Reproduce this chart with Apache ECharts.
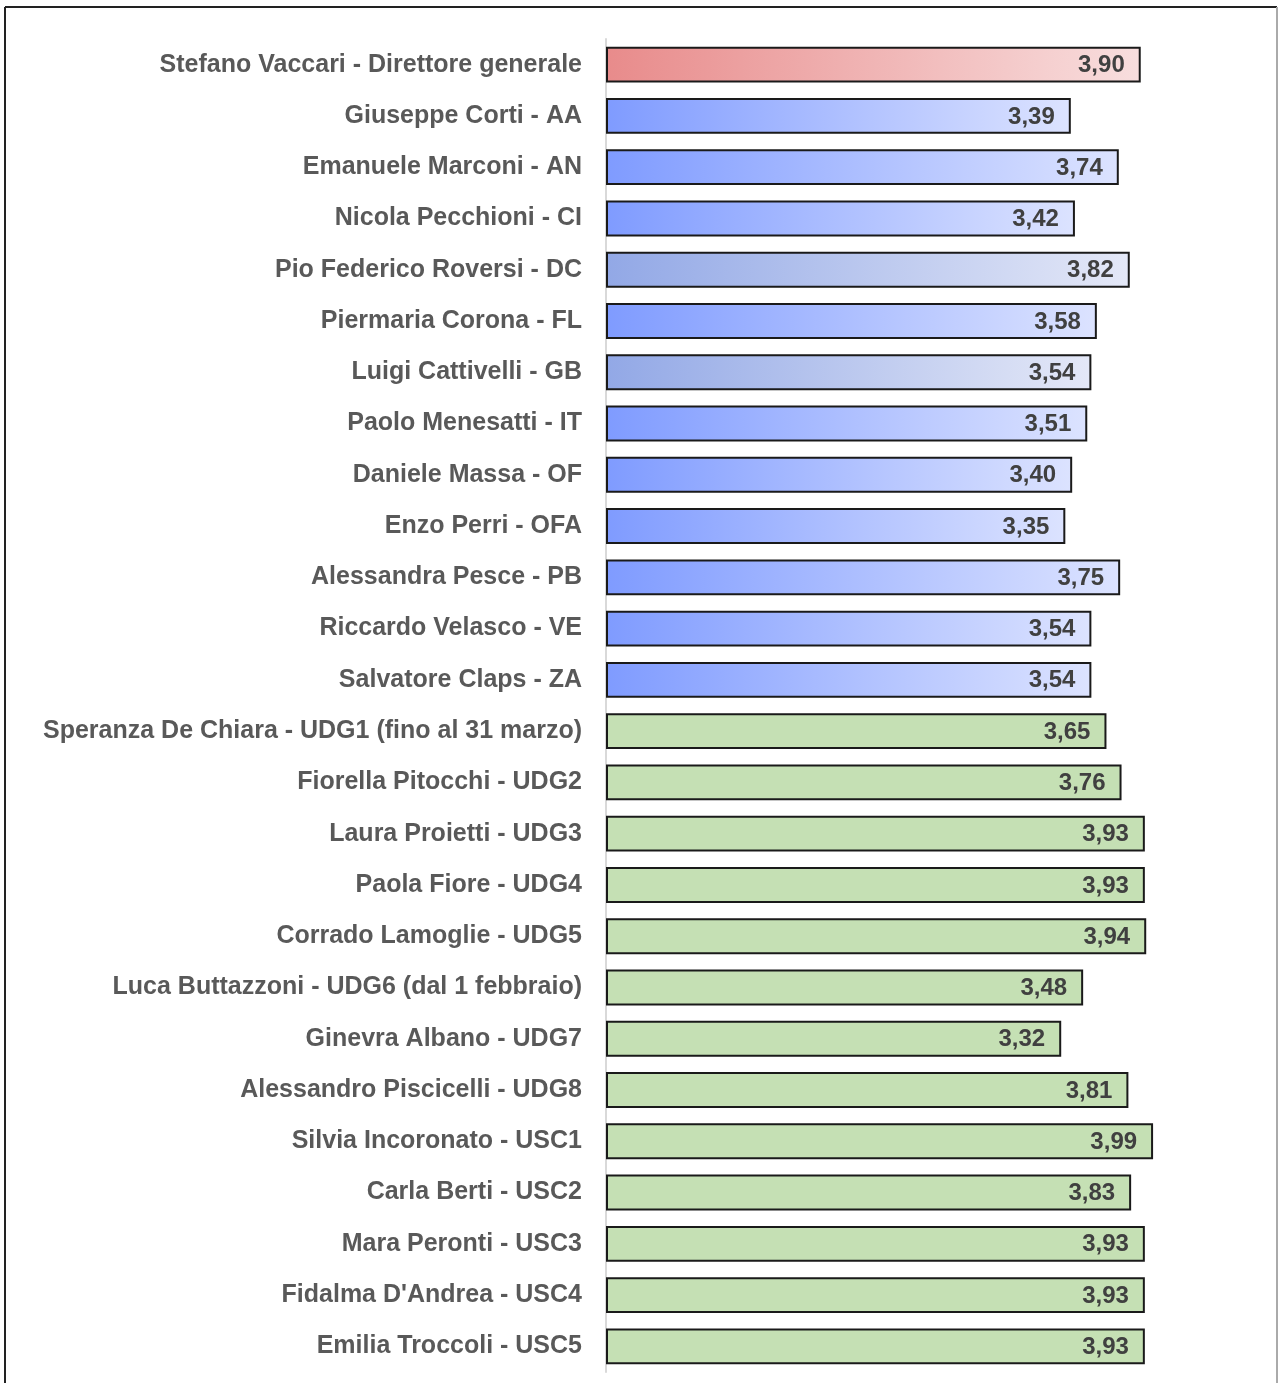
<!DOCTYPE html>
<html>
<head>
<meta charset="utf-8">
<script src="https://cdn.jsdelivr.net/npm/echarts@6/dist/echarts.min.js"></script>
<style>
    html, body {
        margin: 0;
        padding: 0;
        background: #fff;
    }

    #chart {
        width: 1280px;
        height: 1383px;
    }
</style>
</head>
<body>
<div id="chart"></div>
<script>
// nomi (dall'alto verso il basso)
var nomi = [
    'Stefano Vaccari - Direttore generale',
    'Giuseppe Corti - AA',
    'Emanuele Marconi - AN',
    'Nicola Pecchioni - CI',
    'Pio Federico Roversi - DC',
    'Piermaria Corona - FL',
    'Luigi Cattivelli - GB',
    'Paolo Menesatti - IT',
    'Daniele Massa - OF',
    'Enzo Perri - OFA',
    'Alessandra Pesce - PB',
    'Riccardo Velasco - VE',
    'Salvatore Claps - ZA',
    'Speranza De Chiara - UDG1 (fino al 31 marzo)',
    'Fiorella Pitocchi - UDG2',
    'Laura Proietti - UDG3',
    'Paola Fiore - UDG4',
    'Corrado Lamoglie - UDG5',
    'Luca Buttazzoni - UDG6 (dal 1 febbraio)',
    'Ginevra Albano - UDG7',
    'Alessandro Piscicelli - UDG8',
    'Silvia Incoronato - USC1',
    'Carla Berti - USC2',
    'Mara Peronti - USC3',
    "Fidalma D'Andrea - USC4",
    'Emilia Troccoli - USC5'
];

var valori = [
    3.90, 3.39, 3.74, 3.42, 3.82, 3.58, 3.54, 3.51, 3.40, 3.35, 3.75, 3.54, 3.54,
    3.65, 3.76, 3.93, 3.93, 3.94, 3.48, 3.32, 3.81, 3.99, 3.83, 3.93, 3.93, 3.93
];

// gruppo: dg = direttore, cr = centri, crg = centri (tono grigio), uff = uffici
var gruppi = [
    'dg', 'cr', 'cr', 'cr', 'crg', 'cr', 'crg', 'cr', 'cr', 'cr', 'cr', 'cr', 'cr',
    'uff', 'uff', 'uff', 'uff', 'uff', 'uff', 'uff', 'uff', 'uff', 'uff', 'uff', 'uff', 'uff'
];

function coloreBarra(g) {
    if (g === 'dg') {
        return new echarts.graphic.LinearGradient(0, 0, 1, 0, [
            { offset: 0, color: '#E88B8B' },
            { offset: 1, color: '#F8DEDE' }
        ]);
    }
    if (g === 'cr') {
        return new echarts.graphic.LinearGradient(0, 0, 1, 0, [
            { offset: 0, color: '#7F9BFF' },
            { offset: 1, color: '#DCE3FF' }
        ]);
    }
    if (g === 'crg') {
        return new echarts.graphic.LinearGradient(0, 0, 1, 0, [
            { offset: 0, color: '#92A8E6' },
            { offset: 1, color: '#E4E8F7' }
        ]);
    }
    return '#C5E0B4';
}

var chartDom = document.getElementById('chart');
var myChart = echarts.init(chartDom);

var option = {
    animation: false,
    backgroundColor: '#fff',
    grid: {
        left: 606,
        right: 57,
        top: 39,
        bottom: 11,
        containLabel: false
    },
    xAxis: {
        type: 'value',
        min: 0,
        max: 4.5,
        show: false
    },
    yAxis: {
        type: 'category',
        data: nomi,
        inverse: true,
        axisTick: { show: false },
        axisLine: {
            lineStyle: { color: '#d9d9d9', width: 2 }
        },
        axisLabel: {
            color: '#595959',
            fontFamily: 'Liberation Sans, Arial, sans-serif',
            fontWeight: 'bold',
            fontSize: 25,
            margin: 24,
            padding: [4, 0, 0, 0]
        }
    },
    graphic: [
        // cornice esterna
        { type: 'line', shape: { x1: 5, y1: 7, x2: 1277, y2: 7 }, style: { stroke: '#222', lineWidth: 2 } },
        { type: 'line', shape: { x1: 5, y1: 7, x2: 5, y2: 1383 }, style: { stroke: '#222', lineWidth: 2 } },
        { type: 'line', shape: { x1: 1277, y1: 7, x2: 1277, y2: 1383 }, style: { stroke: '#aaa', lineWidth: 2 } }
    ],
    series: [{
        type: 'bar',
        barCategoryGap: '30%',
        data: valori.map(function (v, i) {
            return {
                value: v,
                itemStyle: {
                    color: coloreBarra(gruppi[i]),
                    borderColor: '#1a1a1a',
                    borderWidth: 2
                }
            };
        }),
        label: {
            show: true,
            position: 'insideRight',
            distance: 16,
            offset: [0, 1],
            color: '#404040',
            fontFamily: 'Liberation Sans, Arial, sans-serif',
            fontWeight: 'bold',
            fontSize: 24,
            formatter: function (p) {
                return p.value.toFixed(2).replace('.', ',');
            }
        }
    }]
};

myChart.setOption(option);
window.addEventListener('resize', function () {
    myChart.resize();
});
</script>
</body>
</html>
